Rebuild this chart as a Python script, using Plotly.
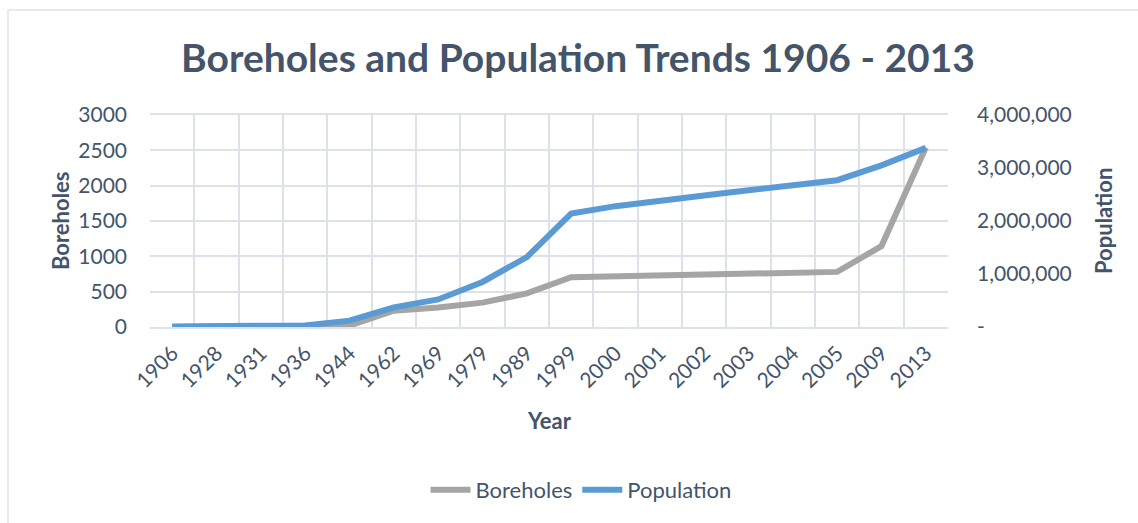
import plotly.graph_objects as go

years = ["1906", "1928", "1931", "1936", "1944", "1962", "1969", "1979", "1989",
         "1999", "2000", "2001", "2002", "2003", "2004", "2005", "2009", "2013"]
boreholes = [0, 5, 10, 10, 20, 230, 275, 345, 475, 705, 715, 730, 745, 755, 770, 780, 1145, 2540]
population = [10000, 20000, 30000, 30000, 120000, 370000, 520000, 850000, 1320000,
              2140000, 2280000, 2390000, 2480000, 2580000, 2670000, 2770000, 3050000, 3380000]
pop_ticks = [0, 1000000, 2000000, 3000000, 4000000]
pop_ticktext = ["-", "1,000,000", "2,000,000", "3,000,000", "4,000,000"]

TXT = "#44546A"
GRID = "#DDE1E8"
FONT = "Lato"

fig = go.Figure()
fig.add_trace(go.Scatter(x=years, y=boreholes, name="Boreholes", mode="lines",
                         line=dict(color="#A5A5A5", width=6), yaxis="y"))
fig.add_trace(go.Scatter(x=years, y=population, name="Population", mode="lines",
                         line=dict(color="#5B9BD5", width=6), yaxis="y2"))

L, R, T, B = 150, 948, 115, 327
W, H = 1138, 523

def px(x):
    return (x - L) / (R - L)

def py(y):
    return (B - y) / (B - T)

fig.update_layout(
    width=W, height=H,
    margin=dict(l=L, r=W - R, t=T, b=H - B),
    paper_bgcolor="white", plot_bgcolor="white",
    font=dict(family=FONT, color=TXT, size=21),
    title=dict(text="<b>Boreholes and Population Trends 1906 - 2013</b>",
               x=px(578), xref="paper", xanchor="center",
               y=1 - 58 / H, yanchor="middle",
               font=dict(size=39, color=TXT, family=FONT)),
    xaxis=dict(type="category", tickson="boundaries", showgrid=True, gridcolor=GRID,
               gridwidth=1.5, tickangle=-45, ticks="", showline=True, linecolor=GRID,
               linewidth=1.5, mirror=True, tickfont=dict(size=21, color=TXT),
               range=[-0.5, len(years) - 0.5], ticklabelstandoff=4),
    yaxis=dict(range=[0, 3000], tickvals=[0, 500, 1000, 1500, 2000, 2500, 3000],
               showgrid=True, gridcolor=GRID, gridwidth=1.5, zeroline=False,
               showline=False, ticks="", ticklabelstandoff=22,
               tickfont=dict(size=21, color=TXT)),
    yaxis2=dict(range=[0, 4000000], overlaying="y", side="right", tickvals=pop_ticks,
                ticktext=pop_ticktext, showgrid=False, zeroline=False, ticks="",
                ticklabelstandoff=28, tickfont=dict(size=21, color=TXT)),
    showlegend=True,
    legend=dict(orientation="h", x=px(581), xanchor="center", y=py(490), yanchor="middle",
                font=dict(size=22, color=TXT), itemwidth=40, traceorder="normal"),
    annotations=[
        dict(text="<b>Boreholes</b>", x=px(60), y=py(221), xref="paper", yref="paper",
             xanchor="center", yanchor="middle",
             textangle=-90, showarrow=False, font=dict(size=22, color=TXT)),
        dict(text="<b>Population</b>", x=px(1103), y=py(221), xref="paper", yref="paper",
             xanchor="center", yanchor="middle",
             textangle=-90, showarrow=False, font=dict(size=22, color=TXT)),
        dict(text="<b>Year</b>", x=px(549), y=py(420), xref="paper", yref="paper",
             xanchor="center", yanchor="middle",
             showarrow=False, font=dict(size=22, color=TXT)),
    ],
    shapes=[dict(type="rect", xref="paper", yref="paper", x0=px(8), y0=py(530),
                 x1=px(1145), y1=py(10), line=dict(color="#E3E3E8", width=1.5),
                 layer="below")],
)

fig.write_html("out.html")
